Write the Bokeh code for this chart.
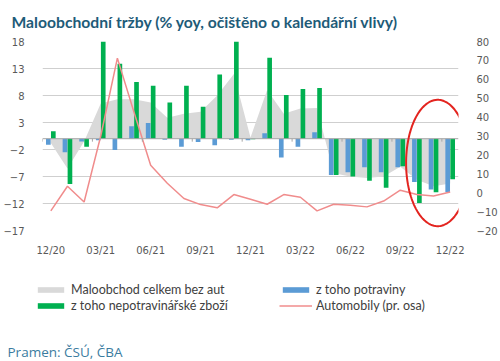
import numpy as np
from bokeh.plotting import figure
from bokeh.layouts import column
from bokeh.models import (Range1d, LinearAxis, FixedTicker, Legend, LegendItem,
                          Label, PolyAnnotation, Span, ColumnDataSource)
from bokeh.embed import file_html
from bokeh.resources import INLINE

# ---- data ----
months = ["12/20", "01/21", "02/21", "03/21", "04/21", "05/21", "06/21", "07/21",
          "08/21", "09/21", "10/21", "11/21", "12/21", "01/22", "02/22", "03/22",
          "04/22", "05/22", "06/22", "07/22", "08/22", "09/22", "10/22", "11/22", "12/22"]
total = [-0.8, -5.5, -0.5, 6.5, 7.3, 7.3, 6.7, 3.9, 4.6, 5.0, 8.0, 12.0, 0.2,
         9.0, 4.6, 5.6, 5.7, -6.4, -7.0, -7.3, -7.0, -5.2, -7.6, -8.8, -8.3]
food = [-1.1, -2.5, -0.5, -0.3, -2.1, 2.3, 2.9, -0.2, -1.5, -0.6, -1.2, -0.2, -0.3,
        1.0, -3.5, -1.5, 1.2, -6.7, -6.2, -5.3, -6.2, -5.3, -8.0, -9.4, -9.9]
nonfood = [1.4, -8.4, -1.5, 18.0, 13.9, 10.5, 9.8, 6.7, 9.8, 5.9, 11.9, 18.0, -0.1,
           15.0, 8.1, 9.2, 9.4, -6.7, -7.0, -7.8, -9.1, -5.1, -11.9, -9.9, -7.5]
cars = [-9.6, 3.4, -4.9, 30.0, 71.2, 42.6, 14.5, 5.0, -3.1, -6.3, -8.0, -1.0, -3.5,
        -6.1, -1.0, -2.4, -9.6, -6.1, -6.6, -7.5, -4.4, 1.3, -1.0, -1.7, 0.4]
left_ticks = [-17, -12, -7, -2, 3, 8, 13, 18]
right_ticks = [-20, -10, 0, 10, 20, 30, 40, 50, 60, 70, 80]
label_step = 3

title_text = "Maloobchodní tržby (% yoy, očištěno o kalendářní vlivy)"
source_text = "Pramen: ČSÚ, ČBA"
legend_labels = ["Maloobchod celkem bez aut", "z toho potraviny",
                 "z toho nepotravinářské zboží", "Automobily (pr. osa)"]

GRAY = "#d9d9d9"
BLUE = "#5b9bd5"
GREEN = "#00b050"
PINK = "#f08c8c"
TXT = "#595959"

idx = np.arange(len(months))
src = ColumnDataSource(dict(x=idx, xb=idx - 0.15, xg=idx + 0.15,
                            total=total, food=food, nonfood=nonfood, cars=cars))

p = figure(width=500, height=262, output_backend="svg", toolbar_location=None,
           x_range=Range1d(-0.5, len(months) - 0.5),
           y_range=Range1d(left_ticks[0], left_ticks[-1]),
           min_border_left=40, min_border_right=35, min_border_top=41,
           min_border_bottom=32)
p.frame_align = False
p.outline_line_color = None
p.background_fill_color = "white"
p.border_fill_color = "white"
p.extra_y_ranges = {"right": Range1d(right_ticks[0], right_ticks[-1])}

# title
p.title.text = title_text
p.title.align = "left"
p.title.offset = -31
p.title.standoff = 21
p.title.text_font = "Lato"
p.title.text_font_style = "bold"
p.title.text_font_size = "15.7px"
p.title.text_color = "#1e5b78"

# grid
p.xgrid.visible = False
p.ygrid.ticker = FixedTicker(ticks=left_ticks)
p.ygrid.grid_line_color = "#cfcfcf"

# axes
p.yaxis.ticker = FixedTicker(ticks=left_ticks)
ax = p.yaxis[0]
ax.axis_line_color = None
ax.major_tick_line_color = None
ax.minor_tick_line_color = None
ax.major_label_standoff = 12
ax.major_label_text_font = "DejaVu Sans"
ax.major_label_text_font_size = "10px"
ax.major_label_text_color = TXT

rax = LinearAxis(y_range_name="right", ticker=FixedTicker(ticks=right_ticks))
rax.axis_line_color = None
rax.major_tick_line_color = None
rax.minor_tick_line_color = None
rax.major_label_standoff = 12
rax.major_label_text_font = "DejaVu Sans"
rax.major_label_text_font_size = "10px"
rax.major_label_text_color = TXT
p.add_layout(rax, "right")

xt = list(range(0, len(months), label_step))
p.xaxis.ticker = FixedTicker(ticks=xt)
p.xaxis.major_label_overrides = {i: months[i] for i in xt}
p.xaxis.axis_line_color = None
p.xaxis.major_tick_line_color = None
p.xaxis.minor_tick_line_color = None
p.xaxis.major_label_standoff = 8
p.xaxis.major_label_text_font = "DejaVu Sans"
p.xaxis.major_label_text_font_size = "10px"
p.xaxis.major_label_text_color = TXT

# glyphs
r_area = p.varea(x="x", y1=0, y2="total", source=src, fill_color=GRAY)
r_food = p.vbar(x="xb", top="food", bottom=0, width=0.28, source=src,
                fill_color=BLUE, line_color=None)
r_nonfood = p.vbar(x="xg", top="nonfood", bottom=0, width=0.28, source=src,
                   fill_color=GREEN, line_color=None)
r_cars = p.line(x="x", y="cars", source=src, y_range_name="right",
                line_color=PINK, line_width=1.5)

# zero line and category ticks
p.add_layout(Span(location=0, dimension="width", line_color="#a6a6a6", line_width=1))
bt = [i - 0.5 for i in range(0, len(months) + 1, label_step)]
p.segment(x0=bt, x1=bt, y0=[0] * len(bt), y1=[-0.55] * len(bt),
          line_color="#a6a6a6", line_width=1)

# highlight ellipse around the last three months
last = idx[-3:]
cx = float(np.mean(last)) + 0.25
cy = -4.5
t = np.linspace(0, 2 * np.pi, 120)
p.add_layout(PolyAnnotation(xs=list(cx + 1.9 * np.cos(t)), ys=list(cy + 11.7 * np.sin(t)),
                            fill_alpha=0, fill_color=None, line_color="#e3241f",
                            line_alpha=1, line_width=2))

# ---- legend + source panel (same series, drawn off-range; only the legend shows) ----
q = figure(width=500, height=98, output_backend="svg", toolbar_location=None,
           x_axis_type=None, y_axis_type=None, min_border=0,
           x_range=Range1d(-200, -199), y_range=Range1d(-200, -199))
q.frame_align = False
q.outline_line_color = None
q.xgrid.visible = False
q.ygrid.visible = False
q.background_fill_color = "white"
q.border_fill_color = "white"

d_area = q.varea(x="x", y1=0, y2="total", source=src, fill_color=GRAY)
d_food = q.vbar(x="xb", top="food", bottom=0, width=0.28, source=src,
                fill_color=BLUE, line_color=None)
d_nonfood = q.vbar(x="xg", top="nonfood", bottom=0, width=0.28, source=src,
                   fill_color=GREEN, line_color=None)
d_cars = q.line(x="x", y="cars", source=src, line_color=PINK, line_width=1.5)

legend = Legend(items=[LegendItem(label=legend_labels[0], renderers=[d_area]),
                       LegendItem(label=legend_labels[1], renderers=[d_food]),
                       LegendItem(label=legend_labels[2], renderers=[d_nonfood]),
                       LegendItem(label=legend_labels[3], renderers=[d_cars])],
                location=(34, 47), orientation="horizontal", ncols=2,
                background_fill_alpha=0, border_line_color=None,
                padding=0, margin=0, spacing=1,
                glyph_width=33, glyph_height=7, label_height=14, label_width=207,
                label_standoff=4,
                label_text_font="Lato", label_text_font_size="12.5px",
                label_text_color="#404040")
q.add_layout(legend, "center")

q.add_layout(Label(x=7, y=9, x_units="screen", y_units="screen", text=source_text,
                   text_font="Open Sans", text_font_size="13.5px",
                   text_color="#3b7ca0", text_baseline="middle"))

layout = column(p, q, spacing=0)
open("out.html", "w").write(file_html(layout, INLINE))
